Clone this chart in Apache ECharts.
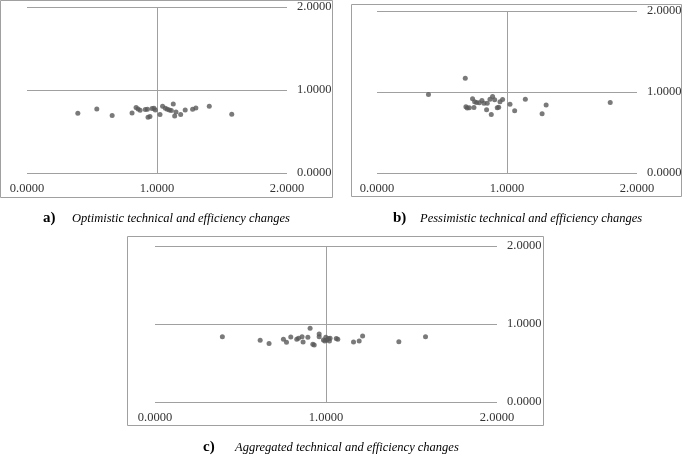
<!DOCTYPE html>
<html>
<head>
<meta charset="utf-8">
<script src="https://cdn.jsdelivr.net/npm/echarts@6/dist/echarts.min.js"></script>
<style>
html,body{margin:0;padding:0;background:#fff;}
#chart{width:685px;height:455px;}
</style>
</head>
<body>
<div id="chart"></div>
<script>
// Panel a) Optimistic technical and efficiency changes [x, y]
const optimistic = [
  [0.391,0.720],[0.537,0.772],[0.655,0.692],[0.808,0.724],[0.839,0.788],
  [0.854,0.772],[0.870,0.756],[0.910,0.764],[0.926,0.768],[0.931,0.672],
  [0.946,0.680],[0.962,0.776],[0.977,0.780],[0.987,0.760],[1.023,0.704],
  [1.043,0.804],[1.064,0.780],[1.079,0.768],[1.095,0.760],[1.110,0.752],
  [1.125,0.832],[1.136,0.688],[1.146,0.736],[1.182,0.704],[1.217,0.760],
  [1.274,0.768],[1.299,0.784],[1.402,0.804],[1.575,0.708]
];
// Panel b) Pessimistic technical and efficiency changes
const pessimistic = [
  [0.396,0.969],[0.679,1.170],[0.684,0.817],[0.694,0.801],[0.710,0.805],
  [0.735,0.916],[0.746,0.809],[0.751,0.879],[0.766,0.871],[0.787,0.866],
  [0.807,0.895],[0.823,0.862],[0.843,0.780],[0.848,0.862],[0.869,0.912],
  [0.879,0.723],[0.889,0.945],[0.905,0.904],[0.925,0.805],[0.936,0.813],
  [0.946,0.879],[0.966,0.908],[1.023,0.850],[1.059,0.768],[1.141,0.912],
  [1.270,0.731],[1.301,0.838],[1.794,0.871]
];
// Panel c) Aggregated technical and efficiency changes
const aggregated = [
  [0.394,0.838],[0.615,0.791],[0.667,0.749],[0.751,0.804],[0.769,0.766],
  [0.794,0.834],[0.829,0.804],[0.839,0.817],[0.860,0.838],[0.866,0.770],
  [0.894,0.830],[0.907,0.945],[0.923,0.740],[0.931,0.732],[0.960,0.872],
  [0.960,0.838],[0.985,0.796],[0.993,0.783],[0.999,0.830],[1.005,0.796],
  [1.015,0.813],[1.020,0.783],[1.024,0.817],[1.060,0.813],[1.069,0.804],
  [1.161,0.770],[1.194,0.783],[1.214,0.847],[1.426,0.774],[1.582,0.838]
];
const captionLetters = ['a)','b)','c)'];
const captionTexts = [
  'Optimistic technical and efficiency changes',
  'Pessimistic technical and efficiency changes',
  'Aggregated technical and efficiency changes'
];
const axisMin = 0, axisMax = 2, axisStep = 1;

const GRID = '#a0a0a0';
const TXT = '#333333';
const FONT = '"Liberation Serif", "Times New Roman", serif';

const grids = [
  {left:27, top:7, width:260, height:166},
  {left:377, top:11, width:260, height:162},
  {left:155, top:246, width:342, height:156}
];
const datasets = [optimistic, pessimistic, aggregated];

function fmt(v){ return v.toFixed(4); }

const xAxes = grids.map((g,i)=>({
  type:'value', gridIndex:i, min:axisMin, max:axisMax, interval:axisStep,
  position:'bottom',
  axisLine:{show:false}, axisTick:{show:false},
  axisLabel:{formatter:fmt, color:TXT, fontFamily:FONT, fontSize:12.5, margin:9},
  splitLine:{show:true, showMinLine:false, showMaxLine:false, lineStyle:{color:GRID, width:1}}
}));
const yAxes = grids.map((g,i)=>({
  type:'value', gridIndex:i, min:axisMin, max:axisMax, interval:axisStep,
  position:'right',
  axisLine:{show:false}, axisTick:{show:false},
  axisLabel:{formatter:fmt, color:TXT, fontFamily:FONT, fontSize:12.5, margin:10},
  splitLine:{show:true, lineStyle:{color:GRID, width:1}}
}));
const series = datasets.map((d,i)=>({
  type:'scatter', xAxisIndex:i, yAxisIndex:i, data:d,
  symbol:'circle', symbolSize:5,
  itemStyle:{color:'#595959'}, silent:true
}));

const borders = [
  {x:0.5, y:0.5, width:332, height:197},
  {x:351.5, y:4.5, width:330, height:192},
  {x:127.5, y:236.5, width:416, height:189}
].map(s=>({type:'rect', shape:s, style:{fill:null, stroke:GRID, lineWidth:1}, silent:true}));

const capPos = [
  {lx:43, tx:72, y:219},
  {lx:393, tx:420, y:219},
  {lx:203, tx:235, y:448}
];
const captions = [];
capPos.forEach((p,i)=>{
  captions.push({type:'text', left:p.lx, top:p.y-8, style:{text:captionLetters[i], font:'bold 15px '+FONT, fill:'#000'}});
  captions.push({type:'text', left:p.tx, top:p.y-7, style:{text:captionTexts[i], font:'italic 12.5px '+FONT, fill:'#000'}});
});

const chart = echarts.init(document.getElementById('chart'), null, {renderer:'canvas'});
chart.setOption({
  animation:false,
  backgroundColor:'#fff',
  grid: grids.map(g=>Object.assign({containLabel:false}, g)),
  xAxis: xAxes,
  yAxis: yAxes,
  series: series,
  graphic: borders.concat(captions)
});
</script>
</body>
</html>
